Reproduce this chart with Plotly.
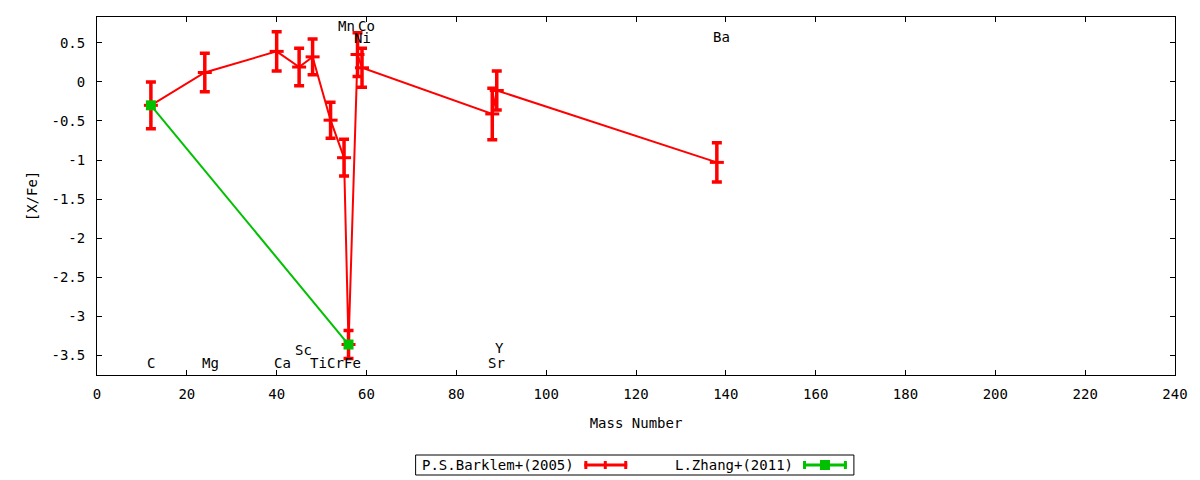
import plotly.graph_objects as go

# ---- data ----
elements = ["C", "Mg", "Ca", "Sc", "Ti", "Cr", "Mn", "Fe", "Ni", "Co", "Sr", "Y", "Ba"]
mass = [12, 24, 40, 45, 48, 52, 55, 56, 58, 59, 88, 89, 138]
barklem_xfe = [-0.30, 0.12, 0.39, 0.19, 0.32, -0.49, -0.97, -3.36, 0.35, 0.18, -0.41, -0.11, -1.03]
barklem_err = [0.30, 0.245, 0.25, 0.24, 0.23, 0.23, 0.235, 0.18, 0.28, 0.25, 0.33, 0.25, 0.25]

zhang_mass = [12, 56]
zhang_xfe = [-0.30, -3.36]

label_text = ["C", "Mg", "Ca", "Sc", "Ti", "Cr", "Fe", "Mn", "Co", "Ni", "Sr", "Y", "Ba"]
label_x = [12.1, 25.2, 41.2, 46.0, 49.4, 53.0, 56.9, 55.5, 60.1, 59.1, 89.0, 89.5, 139.0]
label_y = [-3.6, -3.6, -3.6, -3.43, -3.6, -3.6, -3.6, 0.71, 0.71, 0.56, -3.6, -3.41, 0.58]

x_ticks = [0, 20, 40, 60, 80, 100, 120, 140, 160, 180, 200, 220, 240]
y_ticks = [0.5, 0, -0.5, -1, -1.5, -2, -2.5, -3, -3.5]
y_ticktext = ["0.5", "0", "-0.5", "-1", "-1.5", "-2", "-2.5", "-3", "-3.5"]

series_names = ["P.S.Barklem+(2005)", "L.Zhang+(2011)"]

RED = "#ff0000"
GREEN = "#00c000"
FONT = "DejaVu Sans Mono"

fig = go.Figure()

fig.add_trace(go.Scatter(
    x=mass, y=barklem_xfe, mode="lines+markers", name=series_names[0],
    line=dict(color=RED, width=2),
    marker=dict(symbol="line-ew", size=10, color=RED, line=dict(color=RED, width=3)),
    error_y=dict(type="data", array=barklem_err, visible=True, color=RED,
                 thickness=3.5, width=5),
    showlegend=False, hoverinfo="x+y",
))

fig.add_trace(go.Scatter(
    x=zhang_mass, y=zhang_xfe, mode="lines+markers", name=series_names[1],
    line=dict(color=GREEN, width=2),
    marker=dict(symbol="square", size=10, color=GREEN),
    showlegend=False, hoverinfo="x+y",
))

for t, lx, ly in zip(label_text, label_x, label_y):
    fig.add_annotation(x=lx, y=ly, text=t, showarrow=False, xref="x", yref="y",
                       font=dict(family=FONT, size=14, color="black"),
                       xanchor="center", yanchor="middle", borderpad=0)

# ---- custom gnuplot-style key (text then sample) ----
X0, X1 = 97.0, 1178.0
Y0, Y1 = 17.0, 375.0
def px(p):
    return (p - X0) / (X1 - X0)
def py(p):
    return (Y1 - p) / (Y1 - Y0)

shapes = []
shapes.append(dict(type="rect", xref="paper", yref="paper",
                   x0=px(416.5), x1=px(856), y0=py(455), y1=py(475),
                   line=dict(color="black", width=1), fillcolor="white", layer="below"))
ky = py(465)
cap = 4 / (Y1 - Y0)
for (sx0, sx1, col) in [(585.7, 628.7, RED), (805, 849, GREEN)]:
    shapes.append(dict(type="line", xref="paper", yref="paper", x0=px(sx0), x1=px(sx1),
                       y0=ky, y1=ky, line=dict(color=col, width=3)))
    for cx in (sx0 + 1.5, sx1 - 1.5):
        shapes.append(dict(type="line", xref="paper", yref="paper", x0=px(cx), x1=px(cx),
                           y0=ky - cap, y1=ky + cap, line=dict(color=col, width=3)))
shapes.append(dict(type="line", xref="paper", yref="paper", x0=px(606.7), x1=px(606.7),
                   y0=ky - cap, y1=ky + cap, line=dict(color=RED, width=3)))
shapes.append(dict(type="rect", xref="paper", yref="paper", x0=px(822), x1=px(832),
                   y0=py(470), y1=py(460), line=dict(color=GREEN, width=0), fillcolor=GREEN))

fig.add_annotation(x=px(577), y=ky, xref="paper", yref="paper", text=series_names[0],
                   showarrow=False, xanchor="right", yanchor="middle",
                   font=dict(family=FONT, size=14, color="black"))
fig.add_annotation(x=px(797), y=ky, xref="paper", yref="paper", text=series_names[1],
                   showarrow=False, xanchor="right", yanchor="middle",
                   font=dict(family=FONT, size=14, color="black"))

fig.update_layout(
    width=1200, height=480,
    margin=dict(l=97, r=21, t=17, b=105, pad=0),
    paper_bgcolor="white", plot_bgcolor="white",
    font=dict(family=FONT, size=14, color="black"),
    shapes=shapes,
    showlegend=False,
)
fig.update_xaxes(
    range=[0, 240], tickvals=x_ticks, ticktext=[str(v) for v in x_ticks],
    ticks="inside", ticklen=5, tickwidth=1, tickcolor="black",
    showline=True, linecolor="black", linewidth=1, mirror="allticks",
    showgrid=False, zeroline=False, ticklabelstandoff=6,
    title=dict(text="Mass Number", standoff=17, font=dict(family=FONT, size=14)),
)
fig.update_yaxes(
    range=[-3.75, 0.83], tickvals=y_ticks, ticktext=y_ticktext,
    ticks="inside", ticklen=5, tickwidth=1, tickcolor="black",
    showline=True, linecolor="black", linewidth=1, mirror="allticks",
    showgrid=False, zeroline=False, ticklabelstandoff=8,
    title=dict(text="[X/Fe]", standoff=10, font=dict(family=FONT, size=14)),
)

fig.write_html(
    "out.html",
    config={"displayModeBar": False},
    post_script="document.body.style.margin='0';document.body.style.overflow='hidden';",
)
